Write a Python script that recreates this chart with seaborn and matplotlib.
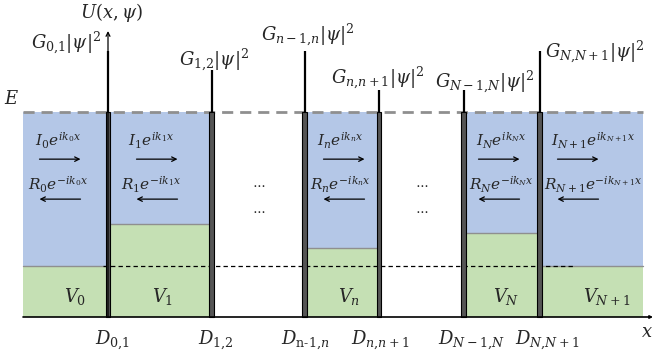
import numpy as np
import pandas as pd
import matplotlib
matplotlib.use("Agg")
import matplotlib.pyplot as plt
import seaborn as sns

# ---------------- data ----------------
E_level = 1.0
V_ref = 0.25
# barriers (delta-like spikes)
barrier_x = [1.08, 2.115, 3.045, 3.79, 4.635, 5.395]
barrier_G = [1.30, 1.205, 1.30, 1.107, 1.107, 1.30]
G_labels = [r"$G_{0{,}1}|\psi|^2$", r"$G_{1{,}2}|\psi|^2$", r"$G_{n-1{,}n}|\psi|^2$",
            r"$G_{n{,}n+1}|\psi|^2$", r"$G_{N-1{,}N}|\psi|^2$", r"$G_{N{,}N+1}|\psi|^2$"]
D_labels = [r"$D_{0{,}1}$", r"$D_{1{,}2}$", r"$D_{\mathrm{n\text{-}1}{,}n}$",
            r"$D_{n{,}n+1}$", r"$D_{N-1{,}N}$", r"$D_{N{,}N+1}$"]
# wells
well_left = [0.23, 1.08, 3.045, 4.635, 5.395]
well_right = [1.08, 2.115, 3.79, 5.395, 6.43]
well_V = [0.25, 0.456, 0.335, 0.408, 0.25]
V_labels = [r"$V_0$", r"$V_1$", r"$V_n$", r"$V_N$", r"$V_{N+1}$"]
I_labels = [r"$I_0e^{ik_0x}$", r"$I_1e^{ik_1x}$", r"$I_ne^{ik_nx}$",
            r"$I_Ne^{ik_Nx}$", r"$I_{N+1}e^{ik_{N+1}x}$"]
R_labels = [r"$R_0e^{-ik_0x}$", r"$R_1e^{-ik_1x}$", r"$R_ne^{-ik_nx}$",
            r"$R_Ne^{-ik_Nx}$", r"$R_{N+1}e^{-ik_{N+1}x}$"]

# ---------------- layout ----------------
G_label_pos = [(0.66, 1.337), (2.14, 1.254), (3.08, 1.376),
               (3.78, 1.166), (4.85, 1.146), (5.95, 1.293)]
D_label_x = [1.12, 2.16, 3.05, 3.80, 4.71, 5.47]
V_label_x = [0.75, 1.63, 3.49, 5.06, 6.07]
text_cx = [0.58, 1.51, 3.40, 5.01, 5.93]
arrow_cx = [0.60, 1.57, 3.44, 4.99, 5.78]
arrow_half = 0.205

sns.set_theme(style="white")
plt.rcParams["mathtext.fontset"] = "dejavuserif"
plt.rcParams["font.family"] = ["DejaVu Serif"]

fig = plt.figure(figsize=(6.54, 3.57), dpi=100)
ax = fig.add_axes([0, 0, 1, 1])
ax.set_xlim(0, 6.54)
ax.set_ylim((317 - 357) / 205, 317 / 205)
ax.axis("off")

blue = "#B4C7E7"
green = "#C5E0B4"
left = np.array(well_left)
width = np.array(well_right) - left
V = np.array(well_V)
ax.bar(left, V, width=width, align="edge", color=green, edgecolor="none", zorder=1)
ax.bar(left, E_level - V, bottom=V, width=width, align="edge", color=blue,
       edgecolor="none", zorder=1)
# grey boundaries between blue and green
for l, r, v in zip(well_left, well_right, well_V):
    ax.plot([l, r], [v, v], color="#8f8f8f", lw=1.0, zorder=2)

# E dashed line
df_E = pd.DataFrame({"x": [0.23, 6.43], "y": [E_level, E_level]})
sns.lineplot(data=df_E, x="x", y="y", ax=ax, color="#8f8f8f", lw=2.0,
             linestyle=(0, (4, 2.5)), zorder=3)
# reference dashed line
df_R = pd.DataFrame({"x": [1.03, 5.73], "y": [V_ref, V_ref]})
sns.lineplot(data=df_R, x="x", y="y", ax=ax, color="black", lw=0.9,
             linestyle=(0, (3.5, 2.5)), zorder=3)

# x axis and U axis
ax.annotate("", xy=(6.53, 0), xytext=(0.23, 0),
            arrowprops=dict(arrowstyle="-|>", color="black", lw=1.2,
                            mutation_scale=4, shrinkA=0, shrinkB=0), zorder=5)
ax.annotate("", xy=(barrier_x[0], 1.395), xytext=(barrier_x[0], 0),
            arrowprops=dict(arrowstyle="->", color="black", lw=0.9,
                            mutation_scale=7, shrinkA=0, shrinkB=0), zorder=5)

# barriers: thick grey base plus thin spike
for bx, g in zip(barrier_x, barrier_G):
    ax.plot([bx, bx], [0, g], color="black", lw=1.6, solid_capstyle="butt", zorder=4)
    ax.bar(bx, E_level, width=0.042, bottom=0, color="#555555",
           edgecolor="black", lw=0.8, zorder=4)

# labels
fs = 13
for (gx, gy), lab in zip(G_label_pos, G_labels):
    ax.text(gx, gy, lab, ha="center", va="center", fontsize=fs)
for dx, lab in zip(D_label_x, D_labels):
    ax.text(dx, -0.112, lab, ha="center", va="center", fontsize=fs)
for vx, lab in zip(V_label_x, V_labels):
    ax.text(vx, 0.098, lab, ha="center", va="center", fontsize=fs)
for tx, ax_c, il, rl in zip(text_cx, arrow_cx, I_labels, R_labels):
    ax.text(tx, 0.86, il, ha="center", va="center", fontsize=11)
    ax.text(tx, 0.645, rl, ha="center", va="center", fontsize=11)
    ax.annotate("", xy=(ax_c + arrow_half, 0.77), xytext=(ax_c - arrow_half, 0.77),
                arrowprops=dict(arrowstyle="->", color="black", lw=0.9,
                                mutation_scale=8, shrinkA=0, shrinkB=0))
    ax.annotate("", xy=(ax_c - arrow_half, 0.575), xytext=(ax_c + arrow_half, 0.575),
                arrowprops=dict(arrowstyle="->", color="black", lw=0.9,
                                mutation_scale=8, shrinkA=0, shrinkB=0))

for dxp in [2.59, 4.22]:
    ax.text(dxp, 0.65, r"$\cdots$", ha="center", va="center", fontsize=10)
    ax.text(dxp, 0.52, r"$\cdots$", ha="center", va="center", fontsize=10)

ax.text(1.12, 1.483, r"$U(x,\psi)$", ha="center", va="center", fontsize=fs)
ax.text(0.12, 1.063, r"$E$", ha="center", va="center", fontsize=fs)
ax.text(6.47, -0.073, r"$x$", ha="center", va="center", fontsize=fs)

fig.savefig("out.png", dpi=100)
